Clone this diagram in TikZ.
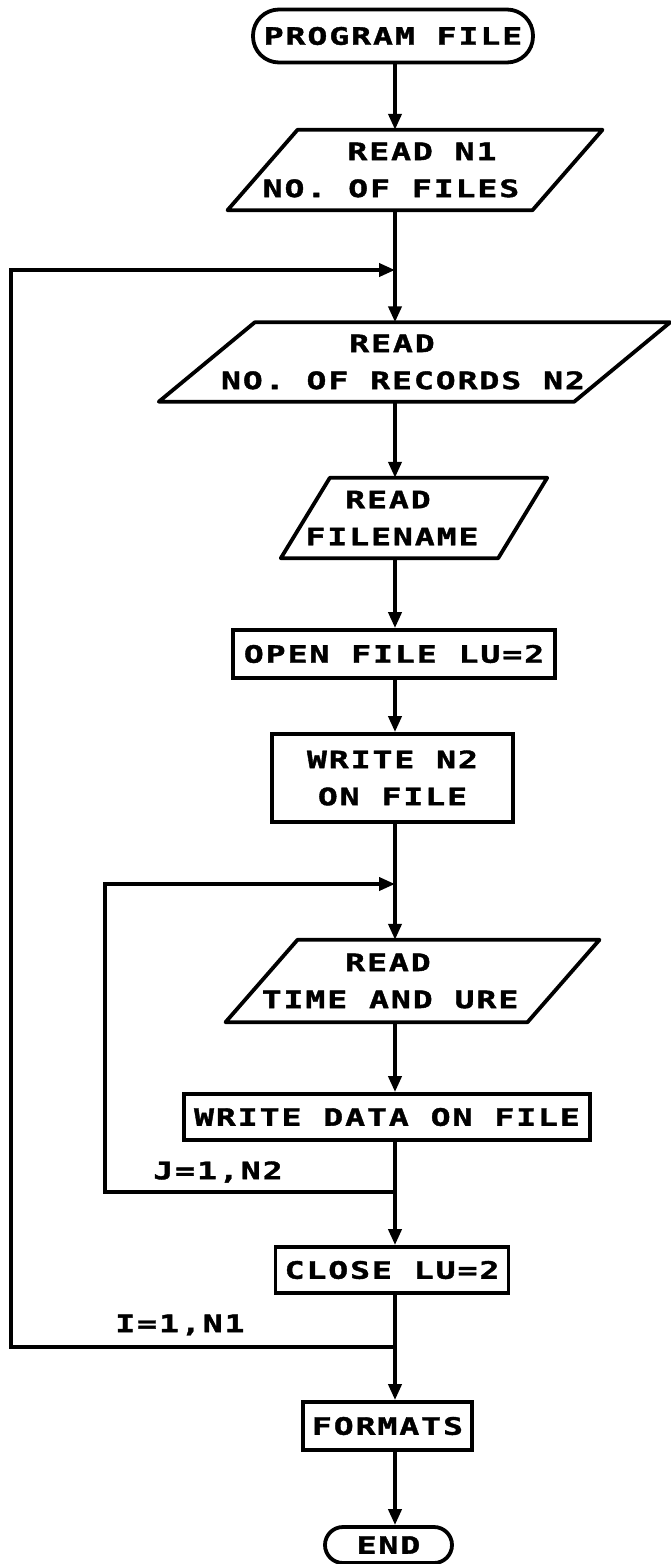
\documentclass[tikz,border=0pt]{standalone}
\usepackage{fontspec}
\usetikzlibrary{arrows.meta,calc}
\newfontfamily\plotfont{DejaVu Sans Mono Bold}[FakeStretch=1.38,LetterSpace=8,FakeBold=1.6]
\tikzset{
  lw/.style={line width=3.8pt},
  txt/.style={font=\plotfont\fontsize{24}{37}\selectfont, align=center, inner sep=0pt},
  procbox/.style={txt, draw, lw},
  termbox/.style={txt, draw, lw},
  iobox/.style={txt},
  conn/.style={lw, -{Triangle[width=13pt,length=16pt]}},
  plain/.style={lw},
}
\newcommand\ioshape[2]{\draw[plain, line join=round] ([xshift=#2]#1.north west) -- ([xshift=#2]#1.north east) -- ([xshift=-#2]#1.south east) -- ([xshift=-#2]#1.south west) -- cycle;}
\begin{document}
\begin{tikzpicture}[x=1pt,y=-1pt]
\useasboundingbox (0,0) rectangle (670,1564);
% nodes
\node[termbox, minimum width=280pt, minimum height=53pt, rounded corners=26pt] (pf) at (393,36) {PROGRAM FILE};
\node[iobox, minimum width=292pt, minimum height=80pt] (n1) at (415,170) {\hspace*{14pt}READ N1\\NO. OF FILES\hspace*{48pt}};
\ioshape{n1}{35pt}
\node[iobox, minimum width=415pt, minimum height=79pt] (rec) at (414.5,362) {READ\hspace*{45pt}\\NO. OF RECORDS N2\hspace*{23pt}};
\ioshape{rec}{48pt}
\node[iobox, minimum width=203pt, minimum height=80pt] (fn) at (414,518) {READ\hspace*{52pt}\\FILENAME\hspace*{44pt}};
\ioshape{fn}{24.5pt}
\node[procbox, minimum width=322pt, minimum height=48pt] (open) at (394,654) {OPEN FILE LU=2};
\node[procbox, minimum width=241pt, minimum height=88pt] (wn2) at (392.5,778) {WRITE N2\\ON FILE};
\node[iobox, minimum width=293pt, minimum height=82pt] (rt) at (412.5,981) {READ\hspace*{49pt}\\TIME AND URE\hspace*{45pt}};
\ioshape{rt}{36pt}
\node[procbox, minimum width=406pt, minimum height=46pt] (wd) at (387,1117) {WRITE DATA ON FILE};
\node[procbox, minimum width=233pt, minimum height=46pt] (close) at (392,1270) {CLOSE LU=2};
\node[procbox, minimum width=169pt, minimum height=48pt] (fmt) at (387.5,1426) {FORMATS};
\node[termbox, minimum width=127pt, minimum height=36pt, rounded corners=18pt] (end) at (388.5,1545) {END};
\node[txt] (jl) at (218,1172) {J=1,N2};
\node[txt] (il) at (180,1325) {I=1,N1};
% coordinates
\coordinate (m) at (395,0);
\coordinate (iTop) at (395,270);
\coordinate (iCorner) at (11,270);
\coordinate (iJ) at (395,1347);
\coordinate (jTop) at (395,884);
\coordinate (jCorner) at (105,884);
\coordinate (jJ) at (395,1192);
% connectors
\draw[conn] (pf.south -| m) -- (n1.north -| m);
\draw[conn] (n1.south -| m) -- (rec.north -| m);
\draw[conn] (iJ) -| (iCorner) -- (iTop);
\draw[conn] (rec.south -| m) -- (fn.north -| m);
\draw[conn] (fn.south -| m) -- (open.north -| m);
\draw[conn] (open.south -| m) -- (wn2.north -| m);
\draw[conn] (wn2.south -| m) -- (rt.north -| m);
\draw[conn] (jJ) -| (jCorner) -- (jTop);
\draw[conn] (rt.south -| m) -- (wd.north -| m);
\draw[conn] (wd.south -| m) -- (close.north -| m);
\draw[conn] (close.south -| m) -- (fmt.north -| m);
\draw[conn] (fmt.south -| m) -- (end.north -| m);
\end{tikzpicture}
\end{document}
